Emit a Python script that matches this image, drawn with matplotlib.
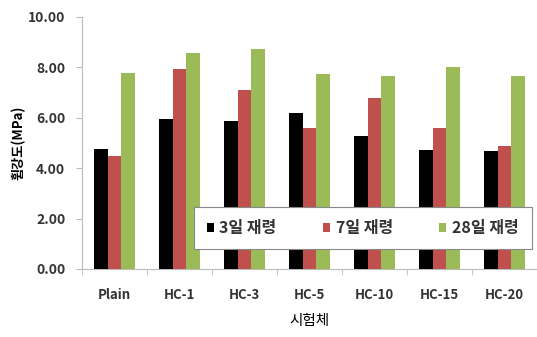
import matplotlib
matplotlib.use('Agg')
import matplotlib.pyplot as plt
import numpy as np

plt.rcParams['font.family'] = ['Noto Sans CJK KR', 'DejaVu Sans']

# specimens and flexural strength (MPa) at each curing age
categories = ['Plain', 'HC-1', 'HC-3', 'HC-5', 'HC-10', 'HC-15', 'HC-20']
day3 = [4.76, 5.95, 5.88, 6.19, 5.28, 4.72, 4.68]
day7 = [4.48, 7.94, 7.10, 5.60, 6.79, 5.60, 4.88]
day28 = [7.78, 8.57, 8.73, 7.74, 7.66, 8.02, 7.66]
series_labels = ['3일 재령', '7일 재령', '28일 재령']
colors = ['#000000', '#C0504D', '#9BBB59']

fig = plt.figure(figsize=(5.37, 3.37), dpi=100)
ax = fig.add_axes([0.1527, 0.2018, 0.8473, 0.7478])

x = np.arange(len(categories))
w = 0.215
for i, (vals, lab, c) in enumerate(zip([day3, day7, day28], series_labels, colors)):
    ax.bar(x + (i - 1) * w, vals, width=w, color=c, label=lab, zorder=3)

ax.set_xlim(-0.5, len(categories) - 0.5)
ax.set_ylim(0, 10)
ax.set_yticks(np.arange(0, 10.01, 2))
ax.set_yticklabels([f'{v:.2f}' for v in np.arange(0, 10.01, 2)],
                   fontsize=10, fontweight='bold', color='#333333')
ax.set_xticks(x)
ax.set_xticklabels(categories, fontsize=9.5, fontweight='bold', color='#333333')
ax.tick_params(axis='x', length=0, pad=14)
ax.set_xticks(np.arange(-0.5, len(categories) - 0.4, 1), minor=True)
ax.tick_params(axis='x', which='minor', length=4, color='#BBBBBB')
ax.tick_params(axis='y', length=4, color='#BBBBBB', pad=8)

for s in ['top', 'right']:
    ax.spines[s].set_visible(False)
for s in ['left', 'bottom']:
    ax.spines[s].set_color('#BBBBBB')

ax.set_ylabel('휨강도(MPa)', fontsize=9.5, fontweight='bold', labelpad=2)
ax.set_xlabel('시험체', fontsize=10.5, labelpad=8)

leg = ax.legend(loc='lower right', bbox_to_anchor=(0.988, 0.08), ncol=3,
                frameon=True, fancybox=False, framealpha=1,
                handlelength=0.45, handleheight=0.45, handletextpad=0.35,
                columnspacing=2.9, borderpad=0.8, borderaxespad=0,
                prop={'weight': 'bold', 'size': 11.5})
for t in leg.get_texts():
    t.set_color('#333333')
leg.get_frame().set_edgecolor('#888888')
leg.get_frame().set_linewidth(0.8)

fig.savefig('out.png', dpi=100)
